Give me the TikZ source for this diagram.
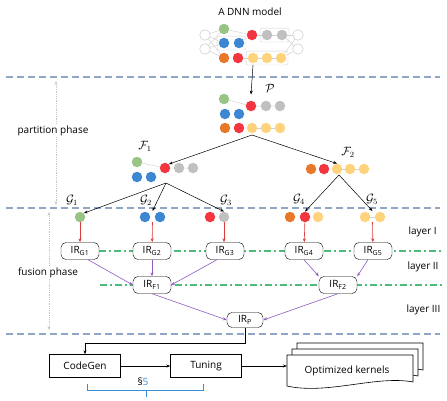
\documentclass[tikz,border=0pt]{standalone}
\usepackage{fontspec}
\setmainfont{Open Sans}
\usetikzlibrary{arrows.meta, fit}

\definecolor{cgreen}{HTML}{98C485}
\definecolor{cblue}{HTML}{3D86D2}
\definecolor{cred}{HTML}{F2353F}
\definecolor{corange}{HTML}{E8772A}
\definecolor{cyellow}{HTML}{FFD27C}
\definecolor{cgray}{HTML}{C0C0C0}
\definecolor{phaseline}{HTML}{8FA6C4}
\definecolor{rulegreen}{HTML}{4CBB7C}
\definecolor{fusearrow}{HTML}{8E5CC2}
\definecolor{feedarrow}{HTML}{D93A3C}
\definecolor{secblue}{HTML}{3A8DD2}

\tikzset{
  ball/.style={circle, minimum size=10.5pt, inner sep=0pt},
  groupbox/.style={draw=gray!35, rounded corners=2pt, inner sep=1.5pt},
  faint/.style={gray!35, line width=0.5pt},
  split/.style={->, black, line width=0.5pt},
  feed/.style={->, feedarrow, line width=0.6pt},
  fuse/.style={->, fusearrow, line width=0.6pt},
  phase/.style={phaseline, dash pattern=on 7pt off 4pt, line width=1.6pt},
  layerrule/.style={color=rulegreen, dash pattern=on 7pt off 3pt on 2pt off 3pt, line width=1.1pt},
  phasespan/.style={<->, gray!45, densely dotted, line width=0.8pt},
  irbox/.style={draw, rounded corners=5pt, fill=white, minimum width=38pt, minimum height=17pt, inner sep=1pt},
  stagebox/.style={draw, fill=white, minimum width=71pt, minimum height=23pt}
}

% one sheet of the kernel stack
\newcommand{\kerneldoc}[2]{%
  \draw[fill=white, line width=0.6pt] (#1,#2) -- ({#1+126},#2) -- ({#1+126},{#2+27})
    .. controls ({#1+90},{#2+20}) and ({#1+40},{#2+40}) .. (#1,{#2+31}) -- cycle;}

\begin{document}
\begin{tikzpicture}[x=1pt, y=-1pt, font=\fontsize{10}{12}\selectfont, >={Stealth[length=4pt,width=3pt]}]
  \useasboundingbox (0,0) rectangle (447,400);

  % phase separators
  \draw[phase] (6,77) -- (440,77);
  \draw[phase] (6,208) -- (440,208);
  \draw[phase] (6,334) -- (440,334);

  % layer separators
  \draw[layerrule] (99,251) -- (442,251);
  \draw[layerrule] (100,285) -- (442,285);

  % the DNN model
  \node (title) at (250,12) {A DNN model};
  \node[ball, draw=gray!50, fill=white] (in1) at (205,35) {};
  \node[ball, draw=gray!50, fill=white] (in2) at (205,49) {};
  \node[ball, draw=gray!50, fill=white] (out1) at (298,35) {};
  \node[ball, draw=gray!50, fill=white] (out2) at (298,49) {};
  \node[ball, fill=cgreen] (m-green) at (224,29) {};
  \node[ball, fill=cblue] (m-blue1) at (224,43) {};
  \node[ball, fill=cblue] (m-blue2) at (239,43) {};
  \node[ball, fill=corange] (m-orange) at (224,58) {};
  \node[ball, fill=cred] (m-red2) at (238,58) {};
  \node[ball, fill=cred] (m-red1) at (252,35) {};
  \node[ball, fill=cgray] (m-gray1) at (267,35) {};
  \node[ball, fill=cgray] (m-gray2) at (282,35) {};
  \node[ball, fill=cyellow] (m-y1) at (253,58) {};
  \node[ball, fill=cyellow] (m-y2) at (267,58) {};
  \node[ball, fill=cyellow] (m-y3) at (281,58) {};
  \node[groupbox, fit=(m-blue1)(m-blue2)] (bluebox) {};
  \node[groupbox, fit=(m-gray1)(m-gray2)] (graybox) {};
  \node[groupbox, fit=(m-y1)(m-y3)] (ybox) {};
  \foreach \a in {in1, in2}
    \foreach \b in {m-green, m-blue1, m-orange}
      \draw[faint] (\a) -- (\b);
  \foreach \a in {out1, out2}
    \foreach \b in {m-gray2, m-y3}
      \draw[faint] (\b) -- (\a);
  \draw[faint] (m-green) -- (m-red1);
  \draw[faint] (m-blue2) -- (m-red1);
  \draw[faint] (m-red1) -- (m-gray1) -- (m-gray2);
  \draw[faint] (m-red2) -- (m-y1) -- (m-y2) -- (m-y3);

  % partition P
  \node[font=\large] (lab-p) at (270,88) {$\mathcal{P}$};
  \node[ball, fill=cgreen] (p-green) at (224,99) {};
  \node[ball, fill=cred] (p-red1) at (251,106) {};
  \node[ball, fill=cgray] (p-gray1) at (266,106) {};
  \node[ball, fill=cgray] (p-gray2) at (280,106) {};
  \node[ball, fill=cblue] (p-blue1) at (225,114) {};
  \node[ball, fill=cblue] (p-blue2) at (239,114) {};
  \node[ball, fill=corange] (p-orange) at (225,128) {};
  \node[ball, fill=cred] (p-red2) at (239,128) {};
  \node[ball, fill=cyellow] (p-y1) at (252,128) {};
  \node[ball, fill=cyellow] (p-y2) at (266,128) {};
  \node[ball, fill=cyellow] (p-y3) at (280,128) {};
  \draw[faint] (p-green) -- (p-red1) -- (p-gray1) -- (p-gray2);
  \draw[faint] (p-y1) -- (p-y2) -- (p-y3);
  \draw[split] (m-y1 |- ybox.south) -- ([yshift=6pt]p-red1.north);
  \coordinate (p-fork) at (252,135);

  % sub-partition F1
  \node[font=\large] (lab-f1) at (145,146) {$\mathcal{F}_1$};
  \node[ball, fill=cgreen] (f1-green) at (137,162) {};
  \node[ball, fill=cred] (f1-red) at (165,168) {};
  \node[ball, fill=cgray] (f1-gray1) at (179,168) {};
  \node[ball, fill=cgray] (f1-gray2) at (193,168) {};
  \node[ball, fill=cblue] (f1-blue1) at (137,177) {};
  \node[ball, fill=cblue] (f1-blue2) at (151,177) {};
  \draw[faint] (f1-green) -- (f1-red) -- (f1-gray1) -- (f1-gray2);
  \coordinate (f1-fork) at (166,183);

  % sub-partition F2
  \node[font=\large] (lab-f2) at (348,152) {$\mathcal{F}_2$};
  \node[ball, fill=corange] (f2-orange) at (311,169) {};
  \node[ball, fill=cred] (f2-red) at (324,169) {};
  \node[ball, fill=cyellow] (f2-y1) at (337,169) {};
  \node[ball, fill=cyellow] (f2-y2) at (350,169) {};
  \node[ball, fill=cyellow] (f2-y3) at (364,169) {};
  \draw[faint] (f2-y1) -- (f2-y2) -- (f2-y3);
  \coordinate (f2-fork) at (339,175);

  \draw[split] (p-fork) -- (f1-red.north east);
  \draw[split] (p-fork) -- (f2-y1.north);

  % subgraphs G1..G5
  \node[font=\large] (lab-g1) at (72,200) {$\mathcal{G}_1$};
  \node[font=\large] (lab-g2) at (146,200) {$\mathcal{G}_2$};
  \node[font=\large] (lab-g3) at (226,200) {$\mathcal{G}_3$};
  \node[font=\large] (lab-g4) at (299,199) {$\mathcal{G}_4$};
  \node[font=\large] (lab-g5) at (372,199) {$\mathcal{G}_5$};
  \node[ball, fill=cgreen] (g1-green) at (80,217) {};
  \node[ball, fill=cblue] (g2-blue1) at (145,217) {};
  \node[ball, fill=cblue] (g2-blue2) at (160,217) {};
  \node[ball, fill=cred] (g3-red) at (210,217) {};
  \node[ball, fill=cgray] (g3-gray) at (224,217) {};
  \node[ball, fill=corange] (g4-orange) at (290,217) {};
  \node[ball, fill=cred] (g4-red) at (305,217) {};
  \node[ball, fill=cyellow] (g4-y) at (318,217) {};
  \node[ball, fill=cyellow] (g5-y1) at (365,217) {};
  \node[ball, fill=cyellow] (g5-y2) at (380,217) {};
  \draw[faint] (g5-y1) -- (g5-y2);
  \coordinate (g2-top) at (152.5,211);
  \coordinate (g2-bot) at (152.5,222);
  \coordinate (g5-top) at (372.5,211);
  \coordinate (g5-bot) at (372.5,222);

  \draw[split] (f1-fork) -- (g1-green.north east);
  \draw[split] (f1-fork) -- (g2-top);
  \draw[split] (f1-fork) -- (g3-gray.north);
  \draw[split] (f2-fork) -- (g4-red.north);
  \draw[split] (f2-fork) -- (g5-top);

  % fused IR
  \node[irbox] (ir-g1) at (80,251) {IR\textsubscript{G1}};
  \node[irbox] (ir-g2) at (152,251) {IR\textsubscript{G2}};
  \node[irbox] (ir-g3) at (225,251) {IR\textsubscript{G3}};
  \node[irbox] (ir-g4) at (304,251) {IR\textsubscript{G4}};
  \node[irbox] (ir-g5) at (373,251) {IR\textsubscript{G5}};
  \node[irbox] (ir-f1) at (152,285) {IR\textsubscript{F1}};
  \node[irbox] (ir-f2) at (338,285) {IR\textsubscript{F2}};
  \node[irbox, minimum width=36pt, minimum height=15pt] (ir-p) at (245,320) {IR\textsubscript{P}};

  \draw[feed] (g1-green) -- (ir-g1);
  \draw[feed] (g2-bot) -- (ir-g2);
  \draw[feed] (g3-gray.south) -- (ir-g3.north west -| g3-gray);
  \draw[feed] (g4-red) -- (ir-g4);
  \draw[feed] (g5-bot) -- (ir-g5);

  \draw[fuse] ([xshift=8pt]ir-g1.south) -- (ir-f1.west);
  \draw[fuse] (ir-g2) -- (ir-f1);
  \draw[fuse] ([xshift=-8pt]ir-g3.south) -- (ir-f1.east);
  \draw[fuse] (ir-g4.south) -- (ir-f2.north west);
  \draw[fuse] ([xshift=-5pt]ir-g5.south) -- (ir-f2.north east);
  \draw[fuse] (ir-f1.south) -- (ir-p.west);
  \draw[fuse] (ir-f2.south) -- (ir-p.east);

  % layer names
  \node[anchor=west] (layer1) at (405,232) {layer I};
  \node[anchor=west] (layer2) at (404,267) {layer II};
  \node[anchor=west] (layer3) at (403,310) {layer III};

  % phase spans
  \coordinate (part-top) at (56,81);
  \coordinate (part-bot) at (56,205);
  \draw[phasespan] (part-top) -- (part-bot);
  \node[fill=white, inner sep=1pt] (partition) at (53,131) {partition phase};
  \coordinate (fuse-top) at (49,212);
  \coordinate (fuse-bot) at (49,330);
  \draw[phasespan] (fuse-top) -- (fuse-bot);
  \node[fill=white, inner sep=1pt] (fusion) at (48,273) {fusion phase};

  % code generation and tuning
  \node[stagebox] (codegen) at (85,366) {CodeGen};
  \node[stagebox] (tuning) at (206,366) {Tuning};
  \coordinate (bend) at (0,343);
  \draw[->, line width=0.6pt] (ir-p.south) -- (ir-p.south |- bend) -| (codegen.north);
  \draw[->, line width=0.6pt] (codegen) -- (tuning);
  \node (sec) at (143,382) {\S\textcolor{secblue}{5}};
  \draw[secblue, line width=0.8pt] (87,384) -- (87,390) -- (203,390) -- (203,384);
  \draw[secblue, line width=0.8pt] (146,390) -- (146,397);

  % generated kernels
  \kerneldoc{297}{343}
  \kerneldoc{292}{349}
  \kerneldoc{287}{355}
  \node (kernels) at (347,371) {Optimized kernels};
  \coordinate (docin) at (287,366);
  \draw[->, line width=0.6pt] (tuning) -- (docin);
\end{tikzpicture}
\end{document}
